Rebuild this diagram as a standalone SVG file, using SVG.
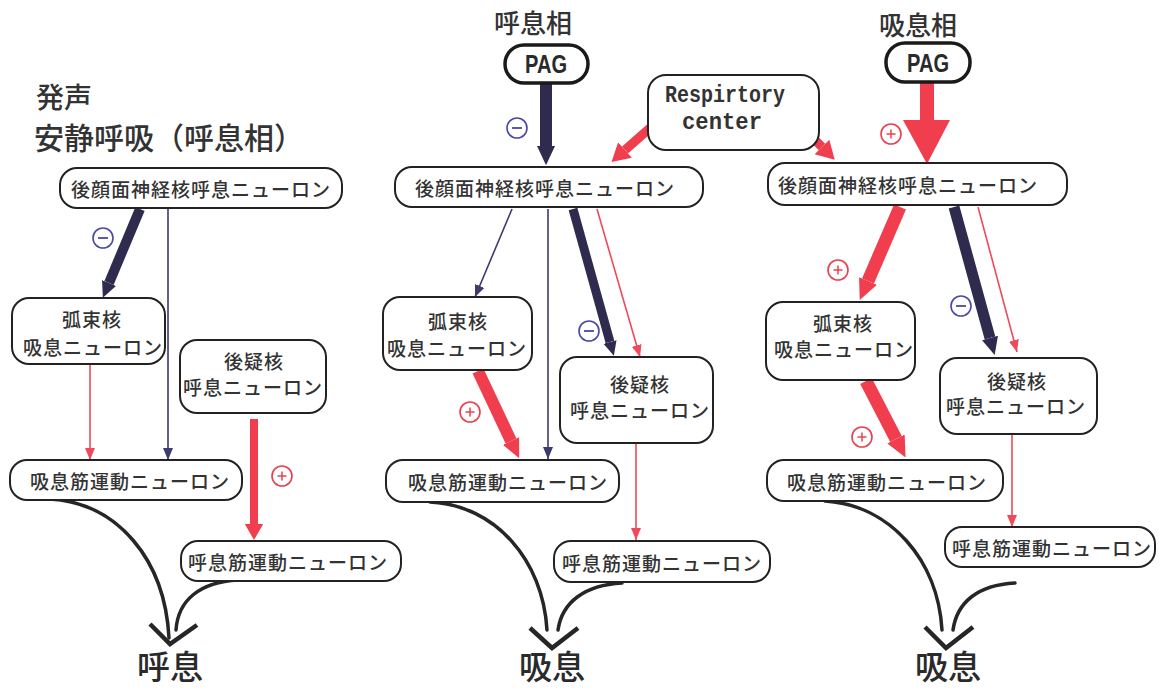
<svg xmlns="http://www.w3.org/2000/svg" xmlns:xlink="http://www.w3.org/1999/xlink" width="1159" height="691" viewBox="0 0 1159 691">
<style>
.box{fill:#fff;stroke:#222;stroke-width:2}
.pag{fill:#fff;stroke:#1a1a1a;stroke-width:3.5}
.t{font-family:"Noto Sans CJK JP",sans-serif;font-size:19px;font-weight:500;fill:#333;text-anchor:middle;dominant-baseline:central;letter-spacing:1px}
.title{font-family:"Noto Sans CJK JP",sans-serif;font-weight:500;fill:#333;text-anchor:middle}
.big{font-family:"Noto Sans CJK JP",sans-serif;font-size:33px;font-weight:500;fill:#2a2a2a;text-anchor:middle}
.mono{font-family:"Liberation Mono",monospace;font-size:23px;font-weight:bold;fill:#333;text-anchor:middle;dominant-baseline:central}
.pagt{font-family:"Liberation Sans Narrow","Liberation Sans",sans-serif;font-weight:bold;font-size:26px;fill:#2a2a2a;text-anchor:middle;dominant-baseline:central}
.dk{stroke:#2e2b4f;fill:none}
.rd{stroke:#f03e4e;fill:none}
.thinD{stroke:#3d3a6e;stroke-width:1.6;fill:none;marker-end:url(#tD)}
.thinR{stroke:#f04a5a;stroke-width:1.6;fill:none;marker-end:url(#tR)}
.crv{stroke:#262626;stroke-width:3.5;fill:none;stroke-linecap:round}
.chev{stroke:#262626;stroke-width:4.5;fill:none}
</style>
<defs>
<marker id="nD" viewBox="0 -1 1.6 2" markerWidth="1.6" markerHeight="2" refX="0" refY="0" orient="auto"><path d="M0,-0.75 L1.6,0 L0,0.75z" fill="#2e2b4f"/></marker>
<marker id="nR" viewBox="0 -1 1.6 2" markerWidth="1.6" markerHeight="2" refX="0" refY="0" orient="auto"><path d="M0,-0.75 L1.6,0 L0,0.75z" fill="#f03e4e"/></marker>
<marker id="wR" viewBox="0 -1.2 2 2.4" markerWidth="2" markerHeight="2.4" refX="0" refY="0" orient="auto"><path d="M0,-1.15 L2,0 L0,1.15z" fill="#f03e4e"/></marker>
<marker id="tD" markerUnits="userSpaceOnUse" viewBox="0 0 12 10" markerWidth="12" markerHeight="10" refX="12" refY="5" orient="auto"><path d="M0,0 L12,5 L0,10z" fill="#3d3a6e"/></marker>
<marker id="tR" markerUnits="userSpaceOnUse" viewBox="0 0 12 10" markerWidth="12" markerHeight="10" refX="12" refY="5" orient="auto"><path d="M0,0 L12,5 L0,10z" fill="#f04a5a"/></marker>
<g id="minus"><circle r="10" fill="none" stroke="#4a48a6" stroke-width="1.6"/><line x1="-5" y1="0" x2="5" y2="0" stroke="#4a48a6" stroke-width="1.8"/></g>
<g id="plus"><circle r="10" fill="none" stroke="#e8404f" stroke-width="1.6"/><line x1="-4.5" y1="0" x2="4.5" y2="0" stroke="#e8404f" stroke-width="1.5"/><line x1="0" y1="-4.5" x2="0" y2="4.5" stroke="#e8404f" stroke-width="1.5"/></g>
</defs>
<rect width="1159" height="691" fill="#fff"/>

<g id="titles">
<text class="title" x="36" y="108" font-size="28" style="text-anchor:start">発声</text>
<text class="title" x="34" y="149" font-size="30" style="text-anchor:start">安静呼吸（呼息相）</text>
<text class="title" x="533" y="33" font-size="26">呼息相</text>
<text class="title" x="918" y="35" font-size="26">吸息相</text>
<text class="big" x="170" y="679">呼息</text>
<text class="big" x="552" y="679">吸息</text>
<text class="big" x="948" y="679">吸息</text>
</g>

<g id="connectors">
<!-- panel 1 -->
<line class="dk" x1="140" y1="209" x2="109" y2="283" stroke-width="10" marker-end="url(#nD)"/>
<line class="thinD" x1="168" y1="209" x2="168" y2="460"/>
<line class="thinR" x1="90" y1="365" x2="90" y2="460"/>
<line class="rd" x1="254" y1="419" x2="254" y2="524" stroke-width="8" marker-end="url(#wR)"/>
<path class="crv" d="M50,499 C118,503 165,560 169,638"/>
<path class="crv" d="M238,580 C200,582 178,600 176,630"/>
<path class="chev" d="M150,624 L170,644 L197,625"/>
<!-- panel 2 -->
<line class="dk" x1="546" y1="84" x2="546" y2="146" stroke-width="12" marker-end="url(#nD)"/>
<line class="rd" x1="650" y1="128" x2="625" y2="150" stroke-width="9" marker-end="url(#wR)"/>
<line class="thinD" x1="512" y1="209" x2="475" y2="297"/>
<line class="thinD" x1="548" y1="209" x2="548" y2="459"/>
<line class="dk" x1="573" y1="209" x2="610" y2="342" stroke-width="9" marker-end="url(#nD)"/>
<line class="thinR" x1="597" y1="209" x2="640" y2="357"/>
<line class="rd" x1="478" y1="371" x2="511" y2="441" stroke-width="12" marker-end="url(#nR)"/>
<line class="thinR" x1="636" y1="444" x2="636" y2="540"/>
<path class="crv" d="M430,502 C495,505 543,560 547,630"/>
<path class="crv" d="M622,583 C585,585 562,602 558,630"/>
<path class="chev" d="M530,628 L552,648 L578,628"/>
<!-- panel 3 -->
<polygon points="920,83 934,83 934,120 950,120 927,164 903,120 920,120" fill="#f03e4e"/>
<line class="rd" x1="809" y1="134" x2="822" y2="147" stroke-width="9" marker-end="url(#wR)"/>
<line class="rd" x1="900" y1="207" x2="868" y2="281" stroke-width="13" marker-end="url(#nR)"/>
<line class="dk" x1="954" y1="207" x2="990" y2="338" stroke-width="11" marker-end="url(#nD)"/>
<line class="thinR" x1="978" y1="207" x2="1017" y2="352"/>
<line class="rd" x1="866" y1="381" x2="896" y2="439" stroke-width="13" marker-end="url(#nR)"/>
<line class="thinR" x1="1012" y1="435" x2="1012" y2="527"/>
<path class="crv" d="M825,501 C890,505 938,560 942,630"/>
<path class="crv" d="M1015,583 C978,585 957,602 953,630"/>
<path class="chev" d="M925,627 L946,648 L973,627"/>
<!-- signs -->
<use xlink:href="#minus" x="103" y="238"/>
<use xlink:href="#plus" x="282" y="476"/>
<use xlink:href="#minus" x="517" y="128"/>
<use xlink:href="#minus" x="589" y="331"/>
<use xlink:href="#plus" x="470" y="412"/>
<use xlink:href="#plus" x="891" y="134"/>
<use xlink:href="#plus" x="838" y="270"/>
<use xlink:href="#minus" x="961" y="306"/>
<use xlink:href="#plus" x="862" y="437"/>
</g>

<!-- panel 1 nodes -->
<g id="p1-rtn"><rect class="box" x="60" y="168" width="282" height="40" rx="17"/><text class="t" x="201" y="188">後顔面神経核呼息ニューロン</text></g>
<g id="p1-nts"><rect class="box" x="12" y="298" width="153" height="66" rx="17"/><text class="t" x="92" y="318">弧束核</text><text class="t" x="93" y="346">吸息ニューロン</text></g>
<g id="p1-na"><rect class="box" x="180" y="340" width="146" height="73" rx="17"/><text class="t" x="254" y="360">後疑核</text><text class="t" x="253" y="386">呼息ニューロン</text></g>
<g id="p1-insp"><rect class="box" x="10" y="460" width="232" height="40" rx="17"/><text class="t" x="130" y="480">吸息筋運動ニューロン</text></g>
<g id="p1-exp"><rect class="box" x="181" y="541" width="220" height="40" rx="17"/><text class="t" x="288" y="561">呼息筋運動ニューロン</text></g>

<!-- panel 2 nodes -->
<g id="p2-pag"><rect class="pag" x="505" y="45" width="83" height="38" rx="19"/><text class="pagt" x="546" y="64" textLength="42" lengthAdjust="spacingAndGlyphs">PAG</text></g>
<g id="resp"><rect class="box" x="648" y="75" width="171" height="75" rx="18"/><text class="mono" x="725" y="96" textLength="120" lengthAdjust="spacingAndGlyphs">Respirtory</text><text class="mono" x="722" y="123" textLength="80" lengthAdjust="spacingAndGlyphs">center</text></g>
<g id="p2-rtn"><rect class="box" x="395" y="167" width="308" height="40" rx="17"/><text class="t" x="545" y="187">後顔面神経核呼息ニューロン</text></g>
<g id="p2-nts"><rect class="box" x="383" y="297" width="149" height="73" rx="17"/><text class="t" x="458" y="320">弧束核</text><text class="t" x="457" y="347">吸息ニューロン</text></g>
<g id="p2-na"><rect class="box" x="560" y="357" width="153" height="86" rx="17"/><text class="t" x="640" y="383">後疑核</text><text class="t" x="640" y="409">呼息ニューロン</text></g>
<g id="p2-insp"><rect class="box" x="386" y="460" width="233" height="42" rx="17"/><text class="t" x="508" y="481">吸息筋運動ニューロン</text></g>
<g id="p2-exp"><rect class="box" x="554" y="541" width="216" height="41" rx="17"/><text class="t" x="662" y="562">呼息筋運動ニューロン</text></g>

<!-- panel 3 nodes -->
<g id="p3-pag"><rect class="pag" x="886" y="43" width="84" height="39" rx="19"/><text class="pagt" x="928" y="63" textLength="42" lengthAdjust="spacingAndGlyphs">PAG</text></g>
<g id="p3-rtn"><rect class="box" x="768" y="163" width="299" height="42" rx="17"/><text class="t" x="908" y="184">後顔面神経核呼息ニューロン</text></g>
<g id="p3-nts"><rect class="box" x="766" y="302" width="149" height="78" rx="17"/><text class="t" x="843" y="322">弧束核</text><text class="t" x="844" y="348">吸息ニューロン</text></g>
<g id="p3-na"><rect class="box" x="940" y="358" width="157" height="76" rx="17"/><text class="t" x="1017" y="380">後疑核</text><text class="t" x="1016" y="405">呼息ニューロン</text></g>
<g id="p3-insp"><rect class="box" x="767" y="460" width="236" height="41" rx="17"/><text class="t" x="887" y="481">吸息筋運動ニューロン</text></g>
<g id="p3-exp"><rect class="box" x="945" y="527" width="210" height="40" rx="17"/><text class="t" x="1052" y="547">呼息筋運動ニューロン</text></g>
</svg>
